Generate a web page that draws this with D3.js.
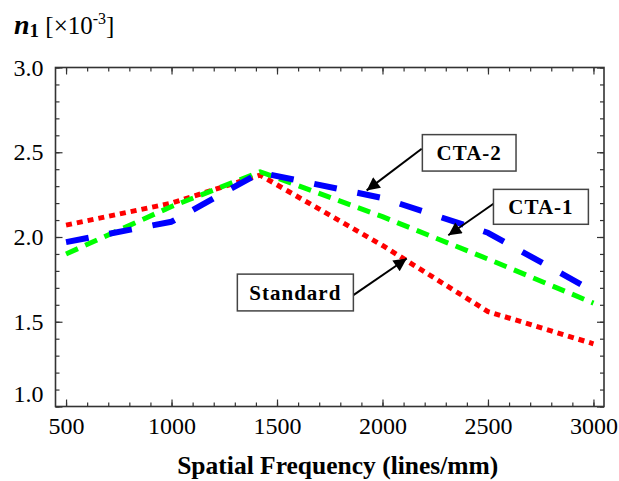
<!DOCTYPE html>
<html>
<head>
<meta charset="utf-8">
<script src="https://cdn.jsdelivr.net/npm/d3@7"></script>
<style>
  html, body { margin: 0; padding: 0; background: #fff; }
  svg { display: block; }
</style>
</head>
<body>
<svg id="chart" width="619" height="481"></svg>
<script>
// ---- data ----
const frequencies = [500, 1000, 1420, 2000, 2500, 3000];
const standardValues = [2.07, 2.20, 2.365, 1.95, 1.56, 1.37];
const cta1Values = [1.90, 2.18, 2.385, 2.12, 1.87, 1.61];
const cta2Values = [1.97, 2.09, 2.38, 2.23, 2.025, 1.68];
const xTickValues = [500, 1000, 1500, 2000, 2500, 3000];
const yTickValues = [1.0, 1.5, 2.0, 2.5, 3.0];
const yTickLabels = ["1.0", "1.5", "2.0", "2.5", "3.0"];

// annotations in data coordinates: label box and arrow (from -> to)
const annotations = [
  { label: "CTA-2",    box: [2189, 2633, 2.604, 2.389], from: [2186, 2.521], to: [1925, 2.275] },
  { label: "CTA-1",    box: [2526, 2976, 2.281, 2.075], from: [2526, 2.196], to: [2312, 2.010] },
  { label: "Standard", box: [1312, 1862, 1.781, 1.564], from: [1862, 1.657], to: [2115, 1.873] }
];

(function () {
// ---- layout ----
const svg = d3.select("#chart");
const L = 55.5, R = 604, T = 67.5, B = 406.5;
const x = d3.scaleLinear().domain([450, 3050]).range([L, R]);
const y = d3.scaleLinear().domain([1, 3]).range([B, T]);
const frameColor = "#333";
const SERIF = '"Liberation Serif", "Times New Roman", Times, serif';

const series = [
  { name: "Standard", values: standardValues, color: "#ff0000", width: 5, dash: "6,5" },
  { name: "CTA-1",    values: cta1Values,     color: "#00ff00", width: 5, dash: "13,8" },
  { name: "CTA-2",    values: cta2Values,     color: "#0000ff", width: 6, dash: "23,21" }
];

const xMinor = d3.range(500, 3001, 100);
const yMinor = d3.range(10, 31, 1).map(d => d / 10);

function styleAxis(g) {
  g.attr("font-family", null);
  g.selectAll("path").remove();
  g.selectAll("line").attr("stroke", frameColor).attr("stroke-width", 1.2);
}

// minor ticks, all four sides
svg.append("g").attr("transform", `translate(0,${B})`)
  .call(d3.axisBottom(x).tickValues(xMinor).tickSize(-4).tickFormat(""))
  .call(styleAxis);
svg.append("g").attr("transform", `translate(0,${T})`)
  .call(d3.axisTop(x).tickValues(xMinor).tickSize(-4).tickFormat(""))
  .call(styleAxis);
svg.append("g").attr("transform", `translate(${L},0)`)
  .call(d3.axisLeft(y).tickValues(yMinor).tickSize(-4).tickFormat(""))
  .call(styleAxis);
svg.append("g").attr("transform", `translate(${R},0)`)
  .call(d3.axisRight(y).tickValues(yMinor).tickSize(-4).tickFormat(""))
  .call(styleAxis);

// major ticks + labels
const xAxisG = svg.append("g").attr("transform", `translate(0,${B})`)
  .call(d3.axisBottom(x).tickValues(xTickValues).tickSizeInner(-7).tickSizeOuter(0).tickPadding(10).tickFormat(d3.format("d")))
  .call(styleAxis);
xAxisG.selectAll("text").style("font-family", SERIF).attr("font-size", 24).attr("fill", "#000");

svg.append("g").attr("transform", `translate(0,${T})`)
  .call(d3.axisTop(x).tickValues(xTickValues).tickSizeInner(-7).tickSizeOuter(0).tickFormat(""))
  .call(styleAxis);

const yAxisG = svg.append("g").attr("transform", `translate(${L},0)`)
  .call(d3.axisLeft(y).tickValues(yTickValues).tickSizeInner(-7).tickSizeOuter(0).tickPadding(12)
    .tickFormat((d, i) => yTickLabels[i]))
  .call(styleAxis);
yAxisG.selectAll("text").style("font-family", SERIF).attr("font-size", 24).attr("fill", "#000")
  .attr("dy", (d) => d === 1.0 ? "-0.2em" : "0.32em");

svg.append("g").attr("transform", `translate(${R},0)`)
  .call(d3.axisRight(y).tickValues(yTickValues).tickSizeInner(-7).tickSizeOuter(0).tickFormat(""))
  .call(styleAxis);

// frame
svg.append("rect")
  .attr("x", L).attr("y", T)
  .attr("width", R - L).attr("height", B - T)
  .attr("fill", "none").attr("stroke", frameColor).attr("stroke-width", 1.6);

// lines
const line = d3.line().x((d, i) => x(frequencies[i])).y(d => y(d));
const lineG = svg.append("g");
series.forEach(s => {
  lineG.append("path")
    .datum(s.values)
    .attr("d", line)
    .attr("fill", "none")
    .attr("stroke", s.color)
    .attr("stroke-width", s.width)
    .attr("stroke-dasharray", s.dash)
    .attr("stroke-linejoin", "round");
});

// arrowhead
svg.append("defs").append("marker")
  .attr("id", "arrow").attr("viewBox", "0 0 10 10")
  .attr("refX", 10).attr("refY", 5)
  .attr("markerWidth", 8).attr("markerHeight", 6.5)
  .attr("markerUnits", "strokeWidth")
  .attr("orient", "auto")
  .append("path").attr("d", "M0,0 L10,5 L0,10 Z").attr("fill", "#000");

// annotations
annotations.forEach(a => {
  const [bx0, bx1, by0, by1] = a.box;
  svg.append("line")
    .attr("x1", x(a.from[0])).attr("y1", y(a.from[1]))
    .attr("x2", x(a.to[0])).attr("y2", y(a.to[1]))
    .attr("stroke", "#000").attr("stroke-width", 2)
    .attr("marker-end", "url(#arrow)");
  svg.append("rect")
    .attr("x", x(bx0)).attr("y", y(by0))
    .attr("width", x(bx1) - x(bx0)).attr("height", y(by1) - y(by0))
    .attr("fill", "#fff").attr("stroke", "#444").attr("stroke-width", 1.5);
  svg.append("text")
    .attr("x", (x(bx0) + x(bx1)) / 2).attr("y", (y(by0) + y(by1)) / 2)
    .attr("dy", "0.35em")
    .attr("text-anchor", "middle")
    .style("font-family", SERIF)
    .attr("font-weight", "bold")
    .attr("font-size", 21).attr("letter-spacing", 1)
    .text(a.label);
});

// axis title
svg.append("text")
  .attr("x", (L + R) / 2 + 8).attr("y", 474)
  .attr("text-anchor", "middle")
  .style("font-family", SERIF)
  .attr("font-weight", "bold").attr("font-size", 25.5)
  .text("Spatial Frequency (lines/mm)");

// y label: n1 [×10^-3]
const yl = svg.append("text").attr("x", 14).attr("y", 34)
  .style("font-family", SERIF)
  .attr("font-size", 25).attr("fill", "#000");
yl.append("tspan").attr("font-weight", "bold").attr("font-style", "italic").attr("font-size", 28).text("n");
yl.append("tspan").attr("font-weight", "bold").attr("font-size", 19).attr("dy", 3).text("1");
yl.append("tspan").attr("dy", -3).text(" [×10");
yl.append("tspan").attr("font-size", 16).attr("dy", -10).text("-3");
yl.append("tspan").attr("dy", 10).text("]");
})();
</script>
</body>
</html>
